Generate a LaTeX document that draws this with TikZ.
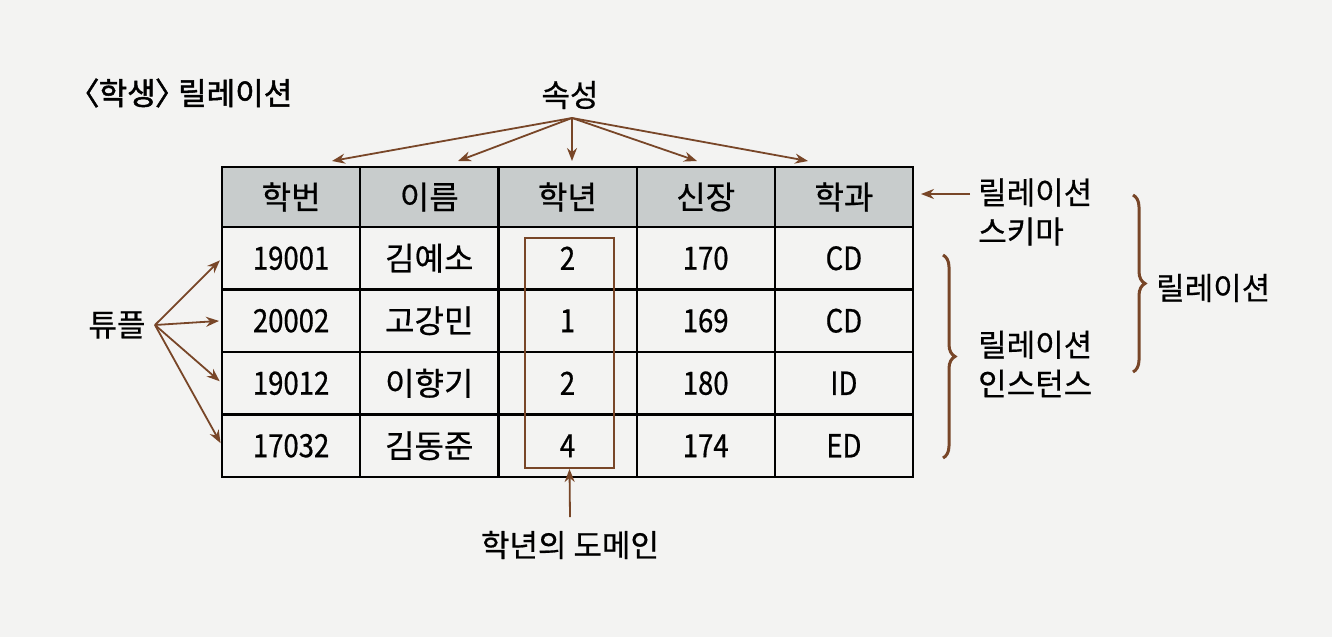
\documentclass[tikz,border=0pt]{standalone}
\usepackage{fontspec}
\setmainfont{Noto Sans CJK KR}[FakeBold=0.6]
\newfontfamily\numfont{Noto Sans CJK KR}[FakeStretch=0.86,FakeBold=0.6]
\newfontfamily\titlefont{Noto Sans CJK KR}[RawFeature=+palt,FakeBold=1.6]
\usetikzlibrary{arrows.meta,decorations.pathreplacing}
\definecolor{bg}{RGB}{243,243,242}
\definecolor{hdr}{RGB}{200,204,204}
\definecolor{brn}{RGB}{120,70,40}
\begin{document}
\begin{tikzpicture}[x=1pt,y=-1pt,
  cell/.style={draw=black, line width=2.2pt, minimum width=138.2pt, minimum height=62.5pt, inner sep=0pt, outer sep=0pt, font=\fontsize{32}{38}\selectfont},
  ncell/.style={cell, font=\fontsize{32}{38}\selectfont\numfont},
  hcell/.style={cell, minimum height=60pt, fill=hdr},
  lbl/.style={font=\fontsize{31}{39}\selectfont, inner sep=0pt},
  arr/.style={draw=brn, line width=1.8pt, -{Stealth[length=13pt,width=10pt]}},
  brc/.style={draw=brn, line width=3pt, decorate, decoration={brace, amplitude=12pt}}]
\fill[bg] (0,0) rectangle (1332,637);
\useasboundingbox (0,0) rectangle (1332,637);
% title
\node[lbl, anchor=west, font=\fontsize{31}{34}\selectfont\titlefont] (title) at (83,93) {〈학생〉 릴레이션};
% header
\foreach \t [count=\i] in {학번,이름,학년,신장,학과}
  \node[hcell] (h\i) at ({222+138.2*(\i-0.5)},197) {\t};
% rows
\foreach \a/\b/\c/\d/\e [count=\r] in {19001/김예소/2/170/CD,20002/고강민/1/169/CD,19012/이향기/2/180/ID,17032/김동준/4/174/ED}{
  \node[ncell] (c1-\r) at (291.1,{227+62.5*(\r-0.5)}) {\a};
  \node[cell] (c2-\r) at (429.3,{227+62.5*(\r-0.5)}) {\b};
  \node[ncell] (c3-\r) at (567.5,{227+62.5*(\r-0.5)}) {\c};
  \node[ncell] (c4-\r) at (705.7,{227+62.5*(\r-0.5)}) {\d};
  \node[ncell] (c5-\r) at (843.9,{227+62.5*(\r-0.5)}) {\e};
}
% domain box
\node[draw=brn, line width=2pt, minimum width=89pt, minimum height=230pt, inner sep=0pt] (dom) at (569.5,353) {};
\node[lbl] (dlbl) at (570,545) {학년의 도메인};
\coordinate (dsrc) at (570,517);
\draw[arr] (dsrc) -- (dom.south);
% attributes
\node[lbl] (attr) at (570,95) {속성};
\coordinate (asrc) at (572,118);
\coordinate (t1) at (332,161);
\coordinate (t2) at (458,161);
\coordinate (t3) at (572,161);
\coordinate (t4) at (697,161);
\coordinate (t5) at (808,161);
\foreach \k in {1,...,5} \draw[arr] (asrc) -- (t\k);
% tuples
\node[lbl] (tup) at (117,325) {튜플};
\coordinate (tsrc) at (155,325);
\foreach \r in {1,...,4} \draw[arr, shorten >=3pt] (tsrc) -- (c1-\r.west);
% schema
\node[lbl, anchor=west, align=left] (schema) at (978,212) {릴레이션\\스키마};
\coordinate (ssrc) at (970,194);
\draw[arr] (ssrc) -- ([xshift=8pt]ssrc -| h5.east);
% instance
\node[lbl, anchor=west, align=left] (inst) at (978,364) {릴레이션\\인스턴스};
\coordinate (b2a) at (943,255);
\coordinate (b2b) at (943,458);
\draw[brc] (b2a) -- (b2b);
% relation
\coordinate (b1a) at (1133,195);
\coordinate (b1b) at (1133,372);
\draw[brc] (b1a) -- (b1b);
\node[lbl, anchor=west] (rel) at (1156,288) {릴레이션};
\end{tikzpicture}
\end{document}
